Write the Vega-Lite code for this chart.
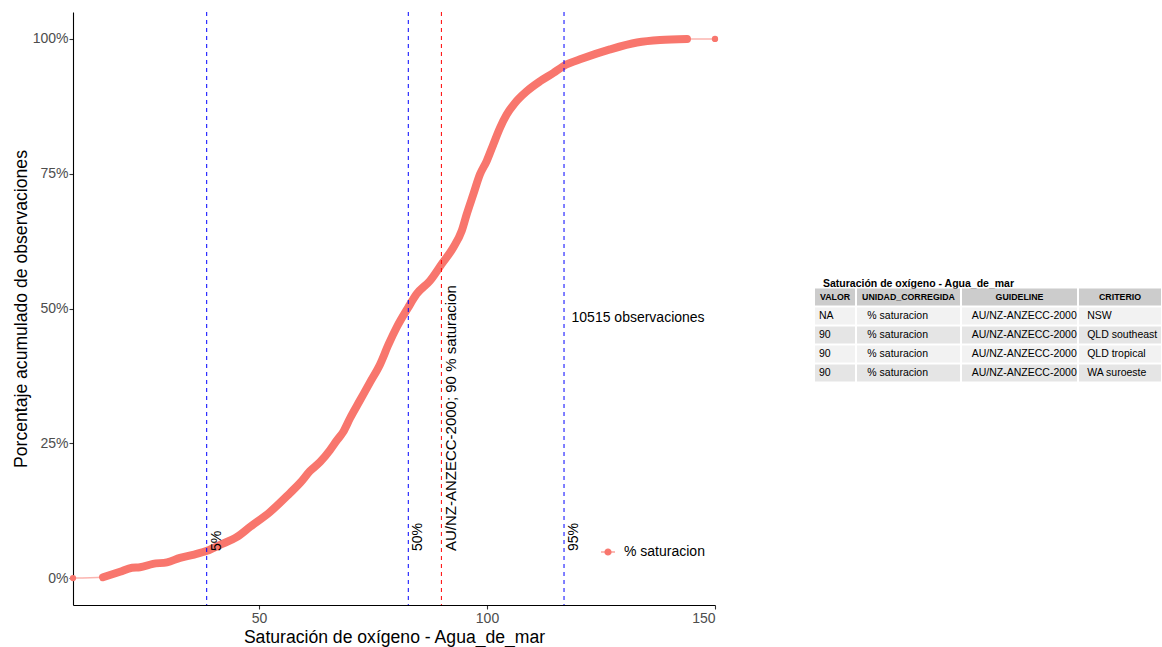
{
  "$schema": "https://vega.github.io/schema/vega-lite/v6.json",
  "background": "white",
  "padding": {"left": 12, "top": 11, "right": 0, "bottom": 3},
  "autosize": {"type": "pad"},
  "bounds": "flush",
  "spacing": 100,
  "config": {
    "font": "Liberation Sans",
    "view": {"stroke": null},
    "axis": {
      "grid": false,
      "domainColor": "#000000",
      "domainWidth": 1.1,
      "tickColor": "#333333",
      "tickWidth": 1.1,
      "tickSize": 4,
      "labelColor": "#4D4D4D",
      "labelFontSize": 14,
      "labelFont": "Liberation Sans",
      "titleFont": "Liberation Sans",
      "titleFontSize": 17.6,
      "titleFontWeight": "normal",
      "titleColor": "#000000"
    }
  },
  "resolve": {"scale": {"x": "independent", "y": "independent", "color": "independent", "fill": "independent"}},
  "datasets": {
    "curva": [
      {"x": 9.21, "y": 0.0, "serie": "% saturacion"},
      {"x": 15.79, "y": 0.0015, "serie": "% saturacion"},
      {"x": 19.52, "y": 0.0116, "serie": "% saturacion"},
      {"x": 22.15, "y": 0.019, "serie": "% saturacion"},
      {"x": 23.9, "y": 0.02, "serie": "% saturacion"},
      {"x": 26.75, "y": 0.0264, "serie": "% saturacion"},
      {"x": 29.82, "y": 0.0292, "serie": "% saturacion"},
      {"x": 32.68, "y": 0.0375, "serie": "% saturacion"},
      {"x": 35.53, "y": 0.0431, "serie": "% saturacion"},
      {"x": 38.6, "y": 0.0505, "serie": "% saturacion"},
      {"x": 41.45, "y": 0.0616, "serie": "% saturacion"},
      {"x": 45.18, "y": 0.0764, "serie": "% saturacion"},
      {"x": 48.03, "y": 0.0949, "serie": "% saturacion"},
      {"x": 52.41, "y": 0.1226, "serie": "% saturacion"},
      {"x": 56.8, "y": 0.1577, "serie": "% saturacion"},
      {"x": 58.99, "y": 0.1762, "serie": "% saturacion"},
      {"x": 61.18, "y": 0.1984, "serie": "% saturacion"},
      {"x": 63.38, "y": 0.2151, "serie": "% saturacion"},
      {"x": 65.57, "y": 0.2373, "serie": "% saturacion"},
      {"x": 67.11, "y": 0.2557, "serie": "% saturacion"},
      {"x": 68.42, "y": 0.2705, "serie": "% saturacion"},
      {"x": 69.96, "y": 0.2964, "serie": "% saturacion"},
      {"x": 72.15, "y": 0.3297, "serie": "% saturacion"},
      {"x": 74.34, "y": 0.363, "serie": "% saturacion"},
      {"x": 76.54, "y": 0.3963, "serie": "% saturacion"},
      {"x": 78.4, "y": 0.4333, "serie": "% saturacion"},
      {"x": 80.2, "y": 0.4652, "serie": "% saturacion"},
      {"x": 82.74, "y": 0.5022, "serie": "% saturacion"},
      {"x": 84.58, "y": 0.527, "serie": "% saturacion"},
      {"x": 87.5, "y": 0.5516, "serie": "% saturacion"},
      {"x": 90.07, "y": 0.5825, "serie": "% saturacion"},
      {"x": 92.61, "y": 0.6132, "serie": "% saturacion"},
      {"x": 94.45, "y": 0.644, "serie": "% saturacion"},
      {"x": 95.55, "y": 0.6749, "serie": "% saturacion"},
      {"x": 97.0, "y": 0.7119, "serie": "% saturacion"},
      {"x": 98.46, "y": 0.7489, "serie": "% saturacion"},
      {"x": 99.93, "y": 0.7735, "serie": "% saturacion"},
      {"x": 101.38, "y": 0.8044, "serie": "% saturacion"},
      {"x": 102.85, "y": 0.8351, "serie": "% saturacion"},
      {"x": 104.32, "y": 0.8598, "serie": "% saturacion"},
      {"x": 106.14, "y": 0.8813, "serie": "% saturacion"},
      {"x": 108.71, "y": 0.9029, "serie": "% saturacion"},
      {"x": 111.62, "y": 0.9214, "serie": "% saturacion"},
      {"x": 114.54, "y": 0.9368, "serie": "% saturacion"},
      {"x": 116.67, "y": 0.9492, "serie": "% saturacion"},
      {"x": 121.05, "y": 0.964, "serie": "% saturacion"},
      {"x": 126.97, "y": 0.9806, "serie": "% saturacion"},
      {"x": 132.89, "y": 0.9935, "serie": "% saturacion"},
      {"x": 137.94, "y": 0.9982, "serie": "% saturacion"},
      {"x": 143.86, "y": 0.9999, "serie": "% saturacion"},
      {"x": 150.0, "y": 1.0, "serie": "% saturacion"}
    ],
    "percentiles": [
      {"x": 38.53, "etiqueta": "5%"},
      {"x": 82.74, "etiqueta": "50%"},
      {"x": 116.89, "etiqueta": "95%"}
    ],
    "guia": [
      {"x": 90, "etiqueta": "AU/NZ-ANZECC-2000; 90 % saturacion"}
    ],
    "obs": [
      {"x": 116.89, "y": 0.482, "etiqueta": "10515 observaciones"}
    ],
    "tabla": [
      {"fila": "header", "VALOR": "VALOR", "UNIDAD_CORREGIDA": "UNIDAD_CORREGIDA", "GUIDELINE": "GUIDELINE", "CRITERIO": "CRITERIO"},
      {"fila": "1", "VALOR": "NA", "UNIDAD_CORREGIDA": "% saturacion", "GUIDELINE": "AU/NZ-ANZECC-2000", "CRITERIO": "NSW"},
      {"fila": "2", "VALOR": "90", "UNIDAD_CORREGIDA": "% saturacion", "GUIDELINE": "AU/NZ-ANZECC-2000", "CRITERIO": "QLD southeast"},
      {"fila": "3", "VALOR": "90", "UNIDAD_CORREGIDA": "% saturacion", "GUIDELINE": "AU/NZ-ANZECC-2000", "CRITERIO": "QLD tropical"},
      {"fila": "4", "VALOR": "90", "UNIDAD_CORREGIDA": "% saturacion", "GUIDELINE": "AU/NZ-ANZECC-2000", "CRITERIO": "WA suroeste"}
    ],
    "titulo": [
      {"fila": "title", "texto": "Saturación de oxígeno - Agua_de_mar"}
    ]
  },
  "hconcat": [
    {
      "width": 642,
      "height": 593,
      "encoding": {
        "x": {
          "field": "x",
          "type": "quantitative",
          "title": "Saturación de oxígeno - Agua_de_mar",
          "scale": {"domain": [9.21, 150], "nice": false, "zero": false},
          "axis": {"values": [50, 100, 150], "labelPadding": 2, "titlePadding": 3}
        }
      },
      "layer": [
        {
          "data": {"name": "curva"},
          "mark": {"type": "line", "strokeWidth": 1.5, "opacity": 0.55, "interpolate": "monotone"},
          "encoding": {
            "y": {"field": "y", "type": "quantitative", "title": "Porcentaje acumulado de observaciones",
                  "scale": {"domain": [-0.05, 1.05], "nice": false, "zero": false},
                  "axis": {"values": [0, 0.25, 0.5, 0.75, 1], "format": ".0%", "labelPadding": 1, "titlePadding": 2}},
            "color": {
              "field": "serie", "type": "nominal",
              "scale": {"range": ["#F8766D"]},
              "legend": {
                "title": null, "orient": "none", "legendX": 527, "legendY": 532,
                "symbolType": "M-1,0H1M-0.43,0A0.43,0.43,0,1,0,0.43,0A0.43,0.43,0,1,0,-0.43,0",
                "symbolSize": 196, "symbolOpacity": 1, "symbolStrokeWidth": 1.2,
                "labelFontSize": 14, "labelColor": "#000000", "labelOffset": 8, "padding": 0
              }
            }
          }
        },
        {
          "data": {"name": "curva"},
          "transform": [{"filter": "datum.x >= 15 && datum.x <= 144"}],
          "mark": {"type": "line", "strokeWidth": 8, "strokeCap": "round", "strokeJoin": "round", "color": "#F8766D", "interpolate": "monotone"},
          "encoding": {
            "y": {"field": "y", "type": "quantitative", "title": "Porcentaje acumulado de observaciones"}
          }
        },
        {
          "data": {"name": "curva"},
          "transform": [{"filter": "datum.x < 10 || datum.x > 149"}],
          "mark": {"type": "point", "filled": true, "size": 40, "opacity": 1},
          "encoding": {
            "y": {"field": "y", "type": "quantitative", "title": "Porcentaje acumulado de observaciones"},
            "color": {"field": "serie", "type": "nominal"}
          }
        },
        {
          "data": {"name": "percentiles"},
          "mark": {"type": "rule", "color": "#0000FF", "strokeDash": [4, 4], "strokeWidth": 1},
          "encoding": {}
        },
        {
          "data": {"name": "guia"},
          "mark": {"type": "rule", "color": "#FF0000", "strokeDash": [4, 4], "strokeWidth": 1},
          "encoding": {}
        },
        {
          "data": {"name": "percentiles"},
          "mark": {"type": "text", "angle": 270, "align": "left", "baseline": "top", "dy": 3, "fontSize": 14, "color": "#000000"},
          "encoding": {
            "y": {"datum": 0.05, "type": "quantitative"},
            "text": {"field": "etiqueta"}
          }
        },
        {
          "data": {"name": "guia"},
          "mark": {"type": "text", "angle": 270, "align": "left", "baseline": "top", "dy": 3, "fontSize": 15, "color": "#000000"},
          "encoding": {
            "y": {"datum": 0.05, "type": "quantitative"},
            "text": {"field": "etiqueta"}
          }
        },
        {
          "data": {"name": "obs"},
          "mark": {"type": "text", "align": "left", "baseline": "middle", "dx": 7.5, "fontSize": 14, "color": "#000000"},
          "encoding": {
            "y": {"field": "y", "type": "quantitative"},
            "text": {"field": "etiqueta"}
          }
        }
      ]
    },
    {
      "bounds": "flush",
      "spacing": 2,
      "resolve": {"scale": {"y": "shared", "fill": "shared", "x": "independent"}},
      "hconcat": [
        {
          "width": 40,
          "height": 593,
          "layer": [
            {
              "data": {"name": "titulo"},
              "mark": {"type": "text", "align": "left", "baseline": "middle", "fontSize": 10.5, "fontWeight": "bold", "color": "#000000", "dy": 6},
              "encoding": {
                "y": {"field": "fila", "type": "nominal", "axis": null,
                      "scale": {"domain": ["title", "header", "1", "2", "3", "4"], "range": [257.5, 369.5], "paddingInner": 0.105, "paddingOuter": 0}},
                "x": {"datum": "VALOR", "type": "nominal", "bandPosition": 0.2, "axis": null, "scale": {"type": "band", "paddingInner": 0, "paddingOuter": 0}},
                "text": {"field": "texto"}
              }
            },
            {
              "data": {"name": "tabla"},
              "mark": {"type": "rect"},
              "encoding": {
                "y": {"field": "fila", "type": "nominal", "axis": null},
                "x": {"value": 0},
                "x2": {"value": "width"},
                "fill": {"field": "fila", "type": "nominal", "legend": null,
                         "scale": {"domain": ["header", "1", "2", "3", "4"], "range": ["#CCCCCC", "#F2F2F2", "#E5E5E5", "#F2F2F2", "#E5E5E5"]}}
              }
            },
            {
              "data": {"name": "tabla"},
              "transform": [{"filter": "datum.fila == 'header'"}],
              "mark": {"type": "text", "align": "center", "baseline": "middle", "fontSize": 8.8, "fontWeight": "bold", "color": "#000000"},
              "encoding": {
                "y": {"field": "fila", "type": "nominal", "axis": null},
                "x": {"datum": "VALOR", "type": "nominal", "bandPosition": 0.5},
                "text": {"field": "VALOR"}
              }
            },
            {
              "data": {"name": "tabla"},
              "transform": [{"filter": "datum.fila != 'header'"}],
              "mark": {"type": "text", "align": "left", "baseline": "middle", "fontSize": 10.5, "color": "#000000"},
              "encoding": {
                "y": {"field": "fila", "type": "nominal", "axis": null},
                "x": {"datum": "VALOR", "type": "nominal", "bandPosition": 0.1},
                "text": {"field": "VALOR"}
              }
            }
          ]
        },
        {
          "width": 103,
          "height": 593,
          "data": {"name": "tabla"},
          "layer": [
            {
              "mark": {"type": "rect"},
              "encoding": {
                "y": {"field": "fila", "type": "nominal", "axis": null,
                      "scale": {"domain": ["title", "header", "1", "2", "3", "4"], "range": [257.5, 369.5], "paddingInner": 0.105, "paddingOuter": 0}},
                "x": {"value": 0},
                "x2": {"value": "width"},
                "fill": {"field": "fila", "type": "nominal", "legend": null,
                         "scale": {"domain": ["header", "1", "2", "3", "4"], "range": ["#CCCCCC", "#F2F2F2", "#E5E5E5", "#F2F2F2", "#E5E5E5"]}}
              }
            },
            {
              "transform": [{"filter": "datum.fila == 'header'"}],
              "mark": {"type": "text", "align": "center", "baseline": "middle", "fontSize": 8.8, "fontWeight": "bold", "color": "#000000"},
              "encoding": {
                "y": {"field": "fila", "type": "nominal", "axis": null},
                "x": {"datum": "UNIDAD_CORREGIDA", "type": "nominal", "bandPosition": 0.5, "axis": null, "scale": {"type": "band", "paddingInner": 0, "paddingOuter": 0}},
                "text": {"field": "UNIDAD_CORREGIDA"}
              }
            },
            {
              "transform": [{"filter": "datum.fila != 'header'"}],
              "mark": {"type": "text", "align": "left", "baseline": "middle", "fontSize": 10.5, "color": "#000000"},
              "encoding": {
                "y": {"field": "fila", "type": "nominal", "axis": null},
                "x": {"datum": "UNIDAD_CORREGIDA", "type": "nominal", "bandPosition": 0.1},
                "text": {"field": "UNIDAD_CORREGIDA"}
              }
            }
          ]
        },
        {
          "width": 115,
          "height": 593,
          "data": {"name": "tabla"},
          "layer": [
            {
              "mark": {"type": "rect"},
              "encoding": {
                "y": {"field": "fila", "type": "nominal", "axis": null,
                      "scale": {"domain": ["title", "header", "1", "2", "3", "4"], "range": [257.5, 369.5], "paddingInner": 0.105, "paddingOuter": 0}},
                "x": {"value": 0},
                "x2": {"value": "width"},
                "fill": {"field": "fila", "type": "nominal", "legend": null,
                         "scale": {"domain": ["header", "1", "2", "3", "4"], "range": ["#CCCCCC", "#F2F2F2", "#E5E5E5", "#F2F2F2", "#E5E5E5"]}}
              }
            },
            {
              "transform": [{"filter": "datum.fila == 'header'"}],
              "mark": {"type": "text", "align": "center", "baseline": "middle", "fontSize": 8.8, "fontWeight": "bold", "color": "#000000"},
              "encoding": {
                "y": {"field": "fila", "type": "nominal", "axis": null},
                "x": {"datum": "GUIDELINE", "type": "nominal", "bandPosition": 0.5, "axis": null, "scale": {"type": "band", "paddingInner": 0, "paddingOuter": 0}},
                "text": {"field": "GUIDELINE"}
              }
            },
            {
              "transform": [{"filter": "datum.fila != 'header'"}],
              "mark": {"type": "text", "align": "left", "baseline": "middle", "fontSize": 10.5, "color": "#000000"},
              "encoding": {
                "y": {"field": "fila", "type": "nominal", "axis": null},
                "x": {"datum": "GUIDELINE", "type": "nominal", "bandPosition": 0.085},
                "text": {"field": "GUIDELINE"}
              }
            }
          ]
        },
        {
          "width": 82,
          "height": 593,
          "data": {"name": "tabla"},
          "layer": [
            {
              "mark": {"type": "rect"},
              "encoding": {
                "y": {"field": "fila", "type": "nominal", "axis": null,
                      "scale": {"domain": ["title", "header", "1", "2", "3", "4"], "range": [257.5, 369.5], "paddingInner": 0.105, "paddingOuter": 0}},
                "x": {"value": 0},
                "x2": {"value": "width"},
                "fill": {"field": "fila", "type": "nominal", "legend": null,
                         "scale": {"domain": ["header", "1", "2", "3", "4"], "range": ["#CCCCCC", "#F2F2F2", "#E5E5E5", "#F2F2F2", "#E5E5E5"]}}
              }
            },
            {
              "transform": [{"filter": "datum.fila == 'header'"}],
              "mark": {"type": "text", "align": "center", "baseline": "middle", "fontSize": 8.8, "fontWeight": "bold", "color": "#000000"},
              "encoding": {
                "y": {"field": "fila", "type": "nominal", "axis": null},
                "x": {"datum": "CRITERIO", "type": "nominal", "bandPosition": 0.5, "axis": null, "scale": {"type": "band", "paddingInner": 0, "paddingOuter": 0}},
                "text": {"field": "CRITERIO"}
              }
            },
            {
              "transform": [{"filter": "datum.fila != 'header'"}],
              "mark": {"type": "text", "align": "left", "baseline": "middle", "fontSize": 10.5, "color": "#000000"},
              "encoding": {
                "y": {"field": "fila", "type": "nominal", "axis": null},
                "x": {"datum": "CRITERIO", "type": "nominal", "bandPosition": 0.1},
                "text": {"field": "CRITERIO"}
              }
            }
          ]
        }
      ]
    }
  ]
}
